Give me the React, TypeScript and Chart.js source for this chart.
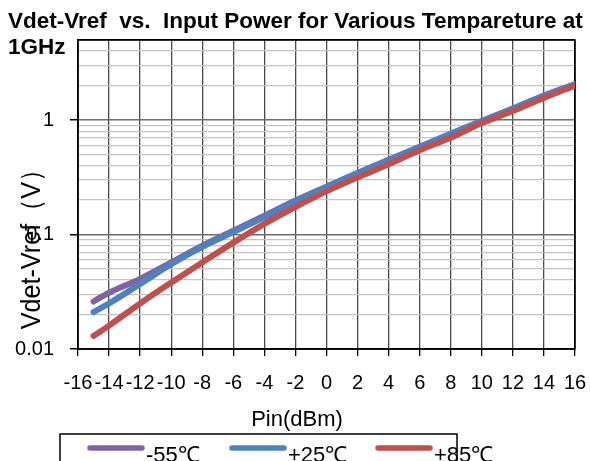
import React, { useEffect, useRef } from 'react';
import { Chart, registerables } from 'chart.js';

Chart.register(...registerables);

// ---- data ----
const pinDbm = [-15, -14, -12, -10, -8, -6, -4, -2, 0, 2, 4, 6, 8, 10, 12, 14, 16];
const vM55 = [0.026, 0.031, 0.041, 0.057, 0.080, 0.108, 0.146, 0.198, 0.262, 0.345, 0.45, 0.585, 0.76, 0.98, 1.26, 1.64, 2.05];
const vP25 = [0.021, 0.025, 0.037, 0.055, 0.078, 0.105, 0.142, 0.195, 0.26, 0.342, 0.446, 0.58, 0.76, 0.98, 1.26, 1.63, 2.05];
const vP85 = [0.013, 0.016, 0.025, 0.038, 0.057, 0.085, 0.124, 0.174, 0.238, 0.315, 0.41, 0.545, 0.70, 0.94, 1.2, 1.56, 2.0];

const seriesLabels = ['-55℃', '+25℃', '+85℃'];
const seriesColors = ['#8064A2', '#4F81BD', '#C0504D'];

const xTickValues = [-16, -14, -12, -10, -8, -6, -4, -2, 0, 2, 4, 6, 8, 10, 12, 14, 16];
const yMajorValues = [0.01, 0.1, 1];
const yMinorMultipliers = [2, 3, 4, 5, 6, 7, 8, 9];
const yMax = 5;

const titleLines = ['Vdet-Vref  vs.  Input Power for Various Tempareture at', '1GHz'];
const xTitle = 'Pin(dBm)';
const yTitle = 'Vdet-Vref（V）';

const FONT = '"Liberation Sans", Arial, Helvetica, sans-serif';

function buildYGrid(): number[] {
  const out: number[] = [];
  for (const m of yMajorValues) {
    out.push(m);
    for (const k of yMinorMultipliers) {
      const v = parseFloat((m * k).toPrecision(6));
      if (v <= yMax) out.push(v);
    }
  }
  return out;
}
const yGridValues = buildYGrid();

function isMajor(v: number) {
  return yMajorValues.some((m) => Math.abs(m - v) < 1e-9);
}

const overlay = {
  id: 'overlay',
  beforeDatasetsDraw(chart: any) {
    const { ctx, chartArea: a } = chart;
    ctx.save();
    ctx.strokeStyle = '#000';
    ctx.lineWidth = 1.5;
    ctx.strokeRect(a.left, a.top, a.right - a.left, a.bottom - a.top);
    ctx.restore();
  },
  afterDraw(chart: any) {
    const ctx = chart.ctx as CanvasRenderingContext2D;
    ctx.save();
    ctx.fillStyle = '#000';
    // Title
    ctx.font = `bold 22.5px ${FONT}`;
    ctx.textAlign = 'left';
    ctx.textBaseline = 'alphabetic';
    ctx.fillText(titleLines[0], 8, 27.5);
    ctx.fillText(titleLines[1], 8, 53.5);
    // X title
    ctx.font = `22px ${FONT}`;
    ctx.textAlign = 'center';
    ctx.fillText(xTitle, 297, 426);
    // Y title
    ctx.save();
    ctx.translate(40, 243);
    ctx.rotate(-Math.PI / 2);
    ctx.scale(0.9, 1);
    ctx.font = `28px ${FONT}`;
    ctx.textAlign = 'center';
    ctx.fillText(yTitle, 0, 0);
    ctx.restore();
    // Legend
    ctx.strokeStyle = '#000';
    ctx.lineWidth = 1.5;
    ctx.strokeRect(60, 434, 397, 60);
    const starts = [90, 232, 378];
    ctx.font = `22px ${FONT}`;
    ctx.textAlign = 'left';
    seriesLabels.forEach((lab, i) => {
      ctx.strokeStyle = seriesColors[i];
      ctx.lineWidth = 5.5;
      ctx.lineCap = 'round';
      ctx.beginPath();
      ctx.moveTo(starts[i], 448);
      ctx.lineTo(starts[i] + 52, 448);
      ctx.stroke();
      ctx.fillStyle = '#000';
      ctx.fillText(lab, starts[i] + 56, 462);
    });
    ctx.restore();
  },
};

export default function App() {
  const ref = useRef<HTMLCanvasElement | null>(null);
  useEffect(() => {
    if (!ref.current) return;
    Chart.defaults.font.family = FONT;
    const series = [vM55, vP25, vP85];
    const chart = new Chart(ref.current, {
      type: 'line',
      data: {
        datasets: series.map((vals, i) => ({
          label: seriesLabels[i],
          data: pinDbm.map((x, j) => ({ x, y: vals[j] })),
          borderColor: seriesColors[i],
          backgroundColor: seriesColors[i],
          borderWidth: 6,
          pointRadius: 0,
          tension: 0.35,
          borderCapStyle: 'round',
          borderJoinStyle: 'round',
          fill: false,
          order: 2 - i,
        })),
      },
      options: {
        animation: false,
        responsive: false,
        devicePixelRatio: 1,
        layout: { padding: { left: 0, right: 15, top: 40, bottom: 0 } },
        plugins: {
          legend: { display: false },
          title: { display: false },
          tooltip: { enabled: false },
        },
        scales: {
          x: {
            type: 'linear',
            min: -16,
            max: 16,
            afterBuildTicks: (s: any) => {
              s.ticks = xTickValues.map((v) => ({ value: v }));
            },
            afterFit: (s: any) => {
              s.height = 112;
              s.paddingLeft = 0;
              s.paddingRight = 0;
            },
            border: { display: true, color: '#000', width: 1.5 },
            grid: {
              color: (c: any) => (c.tick && c.tick.value === 16 ? '#000' : '#4a4a4a'),
              lineWidth: 1.3,
              tickLength: 7,
              tickColor: '#000',
            },
            ticks: {
              autoSkip: false,
              maxRotation: 0,
              padding: 15,
              color: '#000',
              font: { size: 20, family: FONT },
              callback: (v: any) => String(v),
            },
          },
          y: {
            type: 'logarithmic',
            min: 0.01,
            max: yMax,
            afterBuildTicks: (s: any) => {
              s.ticks = yGridValues.map((v) => ({ value: v, major: isMajor(v) }));
            },
            afterFit: (s: any) => {
              s.width = 78;
              s.paddingTop = 0;
              s.paddingBottom = 0;
            },
            border: { display: true, color: '#000', width: 1.5 },
            grid: {
              color: (c: any) => {
                const v = c.tick ? c.tick.value : 0;
                if (Math.abs(v - yMax) < 1e-9) return '#000';
                return isMajor(v) ? '#6e6e6e' : '#c4c4c4';
              },
              lineWidth: (c: any) => (c.tick && isMajor(c.tick.value) ? 1.5 : 1.2),
              tickLength: 8,
              tickColor: (c: any) => (c.tick && isMajor(c.tick.value) ? '#000' : 'rgba(0,0,0,0)'),
            },
            ticks: {
              autoSkip: false,
              padding: 16,
              color: '#000',
              font: { size: 20, family: FONT },
              callback: (v: any) => (isMajor(Number(v)) ? String(v) : ''),
            },
          },
        },
      },
      plugins: [overlay],
    } as any);
    return () => chart.destroy();
  }, []);
  return (
    <div style={{ position: 'fixed', left: 0, top: 0, width: 590, height: 461, background: '#fff' }}>
      <canvas ref={ref} width={590} height={461} style={{ display: 'block' }} />
    </div>
  );
}
